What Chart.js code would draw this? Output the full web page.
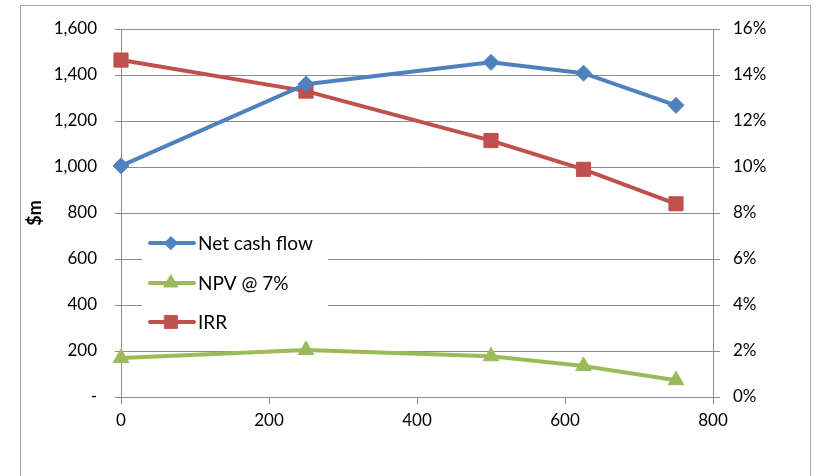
<!DOCTYPE html>
<html>
<head>
<meta charset="utf-8">
<script src="https://cdn.jsdelivr.net/npm/chart.js@4.4.1/dist/chart.umd.min.js"></script>
<style>
  html, body { margin: 0; padding: 0; background: #ffffff; }
  #wrap { width: 816px; height: 476px; position: relative; }
</style>
</head>
<body>
<div id="wrap"><canvas id="c" width="816" height="476"></canvas></div>
<script>
// Scenario capacity (x) and results per scenario
const capacity = [0, 250, 500, 625, 750];
const netCashFlow = [1005, 1360, 1455, 1408, 1268];
const npv7 = [170, 204, 177, 135, 73];
const irr = [14.65, 13.3, 11.15, 9.9, 8.4];

const seriesNames = ['Net cash flow', 'NPV @ 7%', 'IRR'];
const seriesColors = ['#4F81BD', '#9BBB59', '#C0504D'];
const seriesMarkers = ['rectRot', 'triangle', 'rect'];
const markerSizes = [8, 9, 10];
const legendMarkerSizes = [6.5, 8, 9];

const leftTicks = ['-', '200', '400', '600', '800', '1,000', '1,200', '1,400', '1,600'];
const rightTicks = ['0%', '2%', '4%', '6%', '8%', '10%', '12%', '14%', '16%'];
const xTicks = ['0', '200', '400', '600', '800'];

const FONT = 'Lato, "Open Sans", sans-serif';
const GRID = '#8c8c8c';

function pts(values) {
  return values.map((v, i) => ({ x: capacity[i], y: v }));
}

// Outer frame around the whole chart
const framePlugin = {
  id: 'frame',
  beforeDraw(chart) {
    const ctx = chart.ctx;
    ctx.save();
    ctx.strokeStyle = '#a6a6a6';
    ctx.lineWidth = 1;
    ctx.strokeRect(20.5, 5.5, 790, 520);
    ctx.restore();
  }
};

// Legend drawn inside the plot area with a white backing box
const insideLegend = {
  id: 'insideLegend',
  afterDatasetsDraw(chart) {
    const ctx = chart.ctx;
    const box = { x: 142, y: 224, w: 186, h: 116 };
    ctx.save();
    ctx.fillStyle = '#ffffff';
    ctx.fillRect(box.x, box.y, box.w, box.h);
    const rows = [243, 283, 322];
    chart.data.datasets.forEach((ds, i) => {
      const y = rows[i];
      ctx.strokeStyle = ds.borderColor;
      ctx.lineWidth = 4;
      ctx.lineCap = 'round';
      ctx.beginPath();
      ctx.moveTo(150, y);
      ctx.lineTo(194, y);
      ctx.stroke();
      ctx.fillStyle = ds.pointBackgroundColor;
      ctx.strokeStyle = ds.pointBackgroundColor;
      ctx.lineWidth = 1;
      Chart.helpers.drawPoint(ctx, {
        pointStyle: ds.pointStyle,
        radius: legendMarkerSizes[i],
        borderWidth: 1,
        rotation: 0
      }, 171, y);
      ctx.fillStyle = '#000000';
      ctx.font = '19px ' + FONT;
      ctx.textBaseline = 'middle';
      ctx.textAlign = 'left';
      ctx.fillText(ds.label, 198, y + 1);
    });
    ctx.restore();
  }
};

const datasets = [
  { data: pts(netCashFlow), yAxisID: 'y' },
  { data: pts(npv7), yAxisID: 'y' },
  { data: pts(irr), yAxisID: 'y1' }
].map((d, i) => Object.assign(d, {
  label: seriesNames[i],
  borderColor: seriesColors[i],
  backgroundColor: seriesColors[i],
  pointBackgroundColor: seriesColors[i],
  pointBorderColor: seriesColors[i],
  pointStyle: seriesMarkers[i],
  pointRadius: markerSizes[i],
  pointBorderWidth: 1,
  borderWidth: 4,
  tension: 0,
  clip: false,
  fill: false
}));

new Chart(document.getElementById('c'), {
  type: 'line',
  data: { datasets },
  options: {
    responsive: false,
    animation: false,
    events: [],
    layout: { padding: { left: 20, top: 29, right: 0, bottom: 0 } },
    plugins: {
      legend: { display: false },
      tooltip: { enabled: false }
    },
    scales: {
      x: {
        type: 'linear',
        min: 0, max: 800,
        afterBuildTicks(s) { s.ticks = xTicks.map(t => ({ value: Number(t) })); },
        afterFit(s) { s.height = 79; },
        border: { color: GRID, width: 1 },
        grid: { drawOnChartArea: false, color: GRID, tickLength: 7 },
        ticks: {
          color: '#000000',
          font: { family: FONT, size: 17 },
          padding: 6,
          maxRotation: 0,
          callback: (v, i) => xTicks[i]
        }
      },
      y: {
        position: 'left',
        min: 0, max: 1600,
        afterBuildTicks(s) { s.ticks = leftTicks.map((t, i) => ({ value: i * 200 })); },
        afterFit(s) { s.width = 101; },
        border: { color: GRID, width: 1 },
        grid: { color: GRID, lineWidth: 1, tickLength: 6 },
        title: {
          display: true,
          text: '$m',
          color: '#000000',
          font: { family: FONT, size: 18, weight: 'bold' },
          padding: { top: 4, bottom: 0 }
        },
        ticks: {
          color: '#000000',
          font: { family: FONT, size: 17 },
          padding: 18,
          callback: (v, i) => leftTicks[i]
        }
      },
      y1: {
        position: 'right',
        min: 0, max: 16,
        afterBuildTicks(s) { s.ticks = rightTicks.map((t, i) => ({ value: i * 2 })); },
        afterFit(s) { s.width = 103; },
        border: { color: GRID, width: 1 },
        grid: { drawOnChartArea: false, color: GRID, tickLength: 7 },
        ticks: {
          color: '#000000',
          font: { family: FONT, size: 17 },
          padding: 13,
          callback: (v, i) => rightTicks[i]
        }
      }
    }
  },
  plugins: [framePlugin, insideLegend]
});
</script>
</body>
</html>
